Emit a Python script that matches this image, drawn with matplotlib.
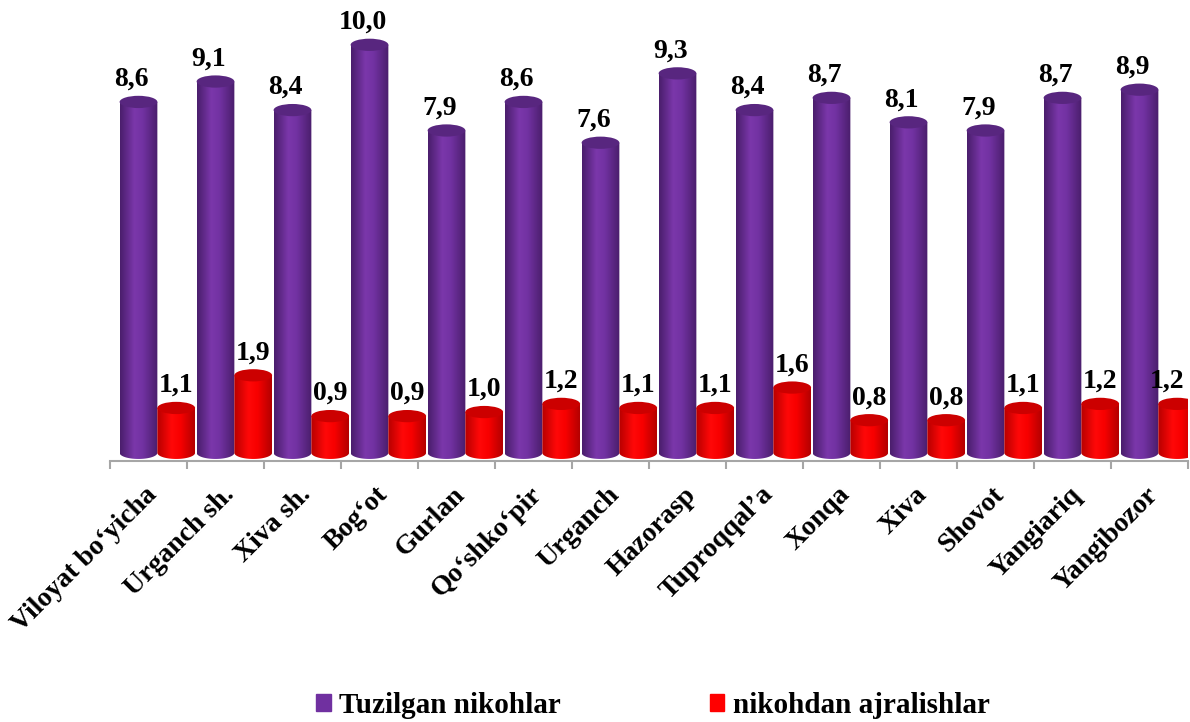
import numpy as np
import matplotlib
matplotlib.use('Agg')
import matplotlib.pyplot as plt
from matplotlib.colors import LinearSegmentedColormap
from matplotlib.patches import Ellipse, PathPatch, Patch
from matplotlib.path import Path

plt.rcParams['font.family'] = ['Liberation Serif', 'DejaVu Serif']
plt.rcParams['font.weight'] = 'bold'

# data
districts = ['Viloyat bo\u2018yicha', 'Urganch sh.', 'Xiva sh.', 'Bog\u2018ot', 'Gurlan',
             'Qo\u2018shko\u2018pir', 'Urganch', 'Hazorasp', 'Tuproqqal\u2019a', 'Xonqa',
             'Xiva', 'Shovot', 'Yangiariq', 'Yangibozor']
tuzilgan = [8.6, 9.1, 8.4, 10.0, 7.9, 8.6, 7.6, 9.3, 8.4, 8.7, 8.1, 7.9, 8.7, 8.9]
ajralish = [1.1, 1.9, 0.9, 0.9, 1.0, 1.2, 1.1, 1.1, 1.6, 0.8, 0.8, 1.1, 1.2, 1.2]

purple_cmap = LinearSegmentedColormap.from_list(
    'pur', [(0, '#4a1e6c'), (0.38, '#7b37ab'), (0.6, '#7232a2'), (1, '#4a1e6c')])
red_cmap = LinearSegmentedColormap.from_list(
    'red', [(0, '#b80000'), (0.38, '#ff0808'), (0.62, '#f80000'), (1, '#b40000')])


def cylinder(ax, xc, h, w, eh, cmap, topcolor, z):
    x0, x1 = xc - w / 2, xc + w / 2
    t = np.linspace(np.pi, 2 * np.pi, 40)
    bottom = np.column_stack([xc + w / 2 * np.cos(t), eh / 2 * np.sin(t)])
    verts = np.vstack([[x0, h], bottom, [x1, h], [x0, h]])
    clip = PathPatch(Path(verts, closed=True), facecolor='none', edgecolor='none')
    ax.add_patch(clip)
    grad = np.linspace(0, 1, 64).reshape(1, -1)
    im = ax.imshow(grad, cmap=cmap, extent=(x0, x1, -eh / 2, h), aspect='auto',
                   origin='lower', interpolation='bicubic', zorder=z)
    im.set_clip_path(clip)
    ax.add_patch(Ellipse((xc, h), w, eh, facecolor=topcolor, edgecolor='none', zorder=z + 0.5))


fig = plt.figure(figsize=(11.9, 7.22), dpi=100)
ax = fig.add_axes([110 / 1190, 261 / 722, 1078 / 1190, 457 / 722])

x = np.arange(len(districts))
w = 0.49
eh = 0.3
for i in x:
    cylinder(ax, i - 0.13, tuzilgan[i], w, eh, purple_cmap, '#58267f', 2)
    cylinder(ax, i + 0.36, ajralish[i], w, eh, red_cmap, '#cc0000', 4)
    ax.annotate(f'{tuzilgan[i]:.1f}'.replace('.', ','), (i - 0.22, tuzilgan[i]),
                xytext=(0, 10), textcoords='offset pixels', ha='center', va='bottom',
                fontsize=20, fontweight='bold', zorder=6)
    # last label is pushed left a bit so it stays on the canvas
    dx = -10 if i == len(x) - 1 else 0
    ax.annotate(f'{ajralish[i]:.1f}'.replace('.', ','), (i + 0.36, ajralish[i]),
                xytext=(dx, 10), textcoords='offset pixels', ha='center', va='bottom',
                fontsize=20, fontweight='bold', zorder=6, annotation_clip=False)
    ax.annotate(districts[i], (i, 0), xycoords=('data', 'axes fraction'),
                xytext=(5, -30), textcoords='offset pixels', rotation=45,
                rotation_mode='anchor', ha='right', va='center',
                fontsize=20, fontweight='bold', annotation_clip=False)

ax.set_xlim(-0.5, 13.5)
ax.set_ylim(-0.2, 11)
for s in ['top', 'right', 'left']:
    ax.spines[s].set_visible(False)
ax.spines['bottom'].set_color('#a6a6a6')
ax.spines['bottom'].set_linewidth(1.5)
ax.set_xticks(np.arange(-0.5, 14, 1))
ax.set_xticklabels([])
ax.tick_params(axis='x', length=6, width=1.5, color='#a6a6a6')
ax.set_yticks([])

handles = [Patch(color='#7030a0', label='Tuzilgan nikohlar'),
           Patch(color='#ff0000', label='nikohdan ajralishlar')]
fig.legend(handles=handles, loc='lower left', bbox_to_anchor=(316 / 1190, 0.004),
           ncol=2, frameon=False, handlelength=0.5, handleheight=0.5,
           handletextpad=0.3, columnspacing=5.1, borderaxespad=0, borderpad=0,
           prop=dict(size=21, weight='bold'))

fig.savefig('out.png', dpi=100)
